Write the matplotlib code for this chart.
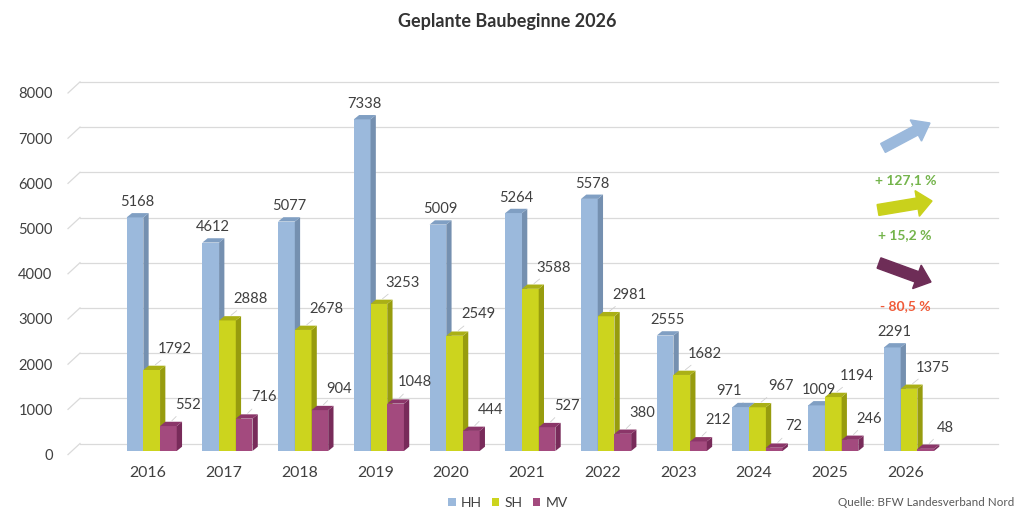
import matplotlib
matplotlib.use("Agg")
import matplotlib.pyplot as plt
from matplotlib.patches import Rectangle, Polygon, FancyArrow, Patch
from matplotlib.transforms import ScaledTranslation, IdentityTransform, blended_transform_factory
import numpy as np

plt.rcParams['font.family'] = ['Lato', 'DejaVu Sans']

# ---------------- data ----------------
years = ['2016', '2017', '2018', '2019', '2020', '2021', '2022', '2023', '2024', '2025', '2026']
hh = [5168, 4612, 5077, 7338, 5009, 5264, 5578, 2555, 971, 1009, 2291]
sh = [1792, 2888, 2678, 3253, 2549, 3588, 2981, 1682, 967, 1194, 1375]
mv = [552, 716, 904, 1048, 444, 527, 380, 212, 72, 246, 48]
series_names = ['HH', 'SH', 'MV']
yticks = [0, 1000, 2000, 3000, 4000, 5000, 6000, 7000, 8000]
changes = ['+ 127,1 %', '+ 15,2 %', '- 80,5 %']
title = 'Geplante Baubeginne 2026'
source = 'Quelle: BFW Landesverband Nord'

# ---------------- style ----------------
front = ['#9bb9dc', '#ccd41e', '#a34a7e']
side = ['#7590b0', '#979c0e', '#782b5a']
top = ['#809fc3', '#aab016', '#8b3669']
arrow_cols = ['#9bb9dc', '#c9d11c', '#6e2d57']
pct_cols = ['#74b44b', '#74b44b', '#f05a38']
txt = '#404040'

W, H, DPI = 1024, 520, 100
fig = plt.figure(figsize=(W / DPI, H / DPI), dpi=DPI)
fig.patch.set_facecolor('white')

ax_left, ax_right = 68, 1000
ax_bottom, ax_top = 451, 89.4
ax = fig.add_axes([ax_left / W, (H - ax_bottom) / H,
                   (ax_right - ax_left) / W, (ax_bottom - ax_top) / H])
px_per_cat = 75.73
c0 = 151.7
ax.set_xlim((ax_left - c0) / px_per_cat, (ax_right - c0) / px_per_cat)
ax.set_ylim(0, 8000)
for s in ax.spines.values():
    s.set_visible(False)
ax.set_facecolor('none')

ypx = (ax_bottom - ax_top) / 8000.0  # pixels per unit
w = 16.7 / px_per_cat
dx = 5.3 / px_per_cat
dy = 4.3 / ypx
offsets = [-w, 0.0, w]

# gridlines (back wall, shifted up) with floor diagonal
gtrans = blended_transform_factory(ax.transAxes, ax.transData)
up = gtrans + ScaledTranslation(0, 7.5 / DPI, fig.dpi_scale_trans)
gx0 = (80 - ax_left) / (ax_right - ax_left)
gx1 = (998 - ax_left) / (ax_right - ax_left)
for v in yticks:
    ax.plot([gx0, gx1], [v, v], transform=up, color='#dadada', lw=0.9,
            zorder=0, clip_on=False)
    p0 = gtrans.transform((0, v)) + np.array([0, -3.6])
    p1 = up.transform((gx0, v))
    ax.plot([p0[0], p1[0]], [p0[1], p1[1]], transform=IdentityTransform(),
            color='#dadada', lw=0.9, zorder=0, clip_on=False)

x = np.arange(len(years))
data = [hh, sh, mv]

def bar3d(xc, v, k):
    x0 = xc - w / 2
    ax.add_patch(Rectangle((x0, 0), w, v, facecolor=front[k], edgecolor='none', zorder=2))
    ax.add_patch(Polygon([(x0 + w, 0), (x0 + w + dx, dy), (x0 + w + dx, v + dy), (x0 + w, v)],
                         closed=True, facecolor=side[k], edgecolor='none', zorder=2))
    ax.add_patch(Polygon([(x0, v), (x0 + dx, v + dy), (x0 + w + dx, v + dy), (x0 + w, v)],
                         closed=True, facecolor=top[k], edgecolor='none', zorder=2))

label_off = [(0, 11), (21, 17), (17, 17)]
nudge = {(0, '2024'): (-14, 12)}
for i in range(len(years)):
    for k in range(3):
        xc = x[i] + offsets[k]
        v = data[k][i]
        bar3d(xc, v, k)
        off = nudge.get((k, years[i]), label_off[k])
        lead = (k > 0) or ((k, years[i]) in nudge)
        ap = dict(arrowstyle='-', color='#cfcfcf', lw=0.6, shrinkA=2, shrinkB=1) if lead else None
        ax.annotate(f'{v}', xy=(xc + w * 0.15, v + dy), xytext=off,
                    textcoords='offset pixels', ha='center', va='center',
                    fontsize=10.6, color=txt, zorder=5, arrowprops=ap)

# ticks
ax.set_xticks(x - 0.046)
ax.set_xticklabels(years, fontsize=11.4, color=txt)
ax.set_yticks(yticks)
ax.set_yticklabels([str(t) for t in yticks], fontsize=10.6, color=txt)
ax.tick_params(axis='x', length=0, pad=11)
ax.tick_params(axis='y', length=0, pad=11)
for lab in ax.get_yticklabels():
    lab.set_transform(lab.get_transform() + ScaledTranslation(0, -3.6 / DPI, fig.dpi_scale_trans))

# trend arrows (image pixel coords -> display)
arrows = [((883, 148), (930, 123), 10, 24, 16),
          ((878, 210), (932, 201), 11, 26, 15),
          ((879, 263), (931, 282), 11, 25, 15)]
for k, ((xa, ya), (xb, yb), sw, hw, hl) in enumerate(arrows):
    fa = FancyArrow(xa, H - ya, xb - xa, (H - yb) - (H - ya), width=sw, head_width=hw,
                    head_length=hl, length_includes_head=True, color=arrow_cols[k],
                    transform=IdentityTransform())
    fig.add_artist(fa)
pct_pos = [(906, 180), (905, 235), (905, 306)]
for k, (px, py) in enumerate(pct_pos):
    fig.text(px / W, 1 - py / H, changes[k], ha='center', va='center',
             fontsize=10, fontweight='bold', color=pct_cols[k])

fig.text(507 / W, 1 - 22 / H, title, ha='center', va='center', fontsize=13,
         fontweight='bold', color='#333333')

handles = [Patch(facecolor=front[k], edgecolor='none') for k in range(3)]
fig.legend(handles, series_names, loc='center', bbox_to_anchor=(508 / W, 1 - 503 / H),
           ncol=3, frameon=False, fontsize=10, handlelength=0.55, handleheight=0.55,
           columnspacing=0.7, handletextpad=0.4, labelcolor='#404040')
fig.text(1014 / W, 1 - 503 / H, source, ha='right', va='center', fontsize=8.4,
         color='#595959')

fig.savefig('out.png', dpi=DPI)
